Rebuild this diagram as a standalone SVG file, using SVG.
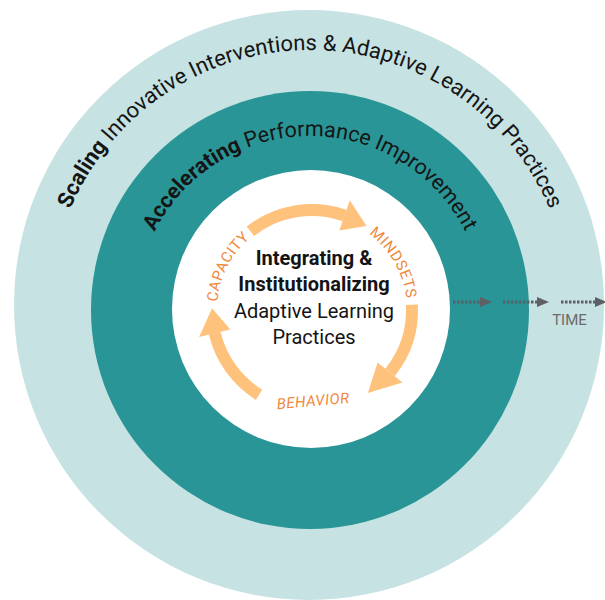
<svg xmlns="http://www.w3.org/2000/svg" width="605" height="600" viewBox="0 0 605 600">
<style>
.ring-text{font-family:Roboto,"Liberation Sans",sans-serif;fill:#151515}
.b{font-weight:700}
.core-text{font-family:Roboto,"Liberation Sans",sans-serif;font-size:20px;fill:#141414;text-anchor:middle}
.label{font-family:Roboto,"Liberation Sans",sans-serif;font-size:15px;fill:#f0883c;letter-spacing:0.5px}
.cycle{fill:none;stroke:#fec27c;stroke-width:12}
.head{fill:#fec27c}
.time{stroke:#5f5f66;stroke-width:3;stroke-dasharray:2.5 1.5;fill:none}
</style>
<defs>
<path id="p-outer" d="M50,310 A260,260 0 0 1 570,310"/>
<path id="p-mid" d="M136,310 A174,174 0 0 1 484,310"/>
<path id="p-cap" d="M224.55,347.1 A95,95 0 0 1 290.6,217.4"/>
<path id="p-mind" d="M328.5,216.4 A95,95 0 0 1 401.3,342.5"/>
<marker id="ah" markerUnits="userSpaceOnUse" markerWidth="12" markerHeight="10" refX="0" refY="5" orient="auto"><path d="M0,0 L12,5 L0,10 z" fill="#5f5f66"/></marker>
</defs>
<g id="outer-ring">
<circle cx="309" cy="305" r="295" fill="#c6e2e2"/>
<text class="ring-text" font-size="22"><textPath href="#p-outer" startOffset="50%" text-anchor="middle"><tspan class="b">Scaling</tspan> Innovative Interventions &amp; Adaptive Learning Practices</textPath></text>
</g>
<g id="middle-ring">
<circle cx="310" cy="310" r="219" fill="#299596"/>
<text class="ring-text" font-size="21.5"><textPath href="#p-mid" startOffset="50%" text-anchor="middle"><tspan class="b">Accelerating</tspan> Performance Improvement</textPath></text>
</g>
<g id="core">
<circle cx="311" cy="309" r="139" fill="#ffffff"/>
<text class="core-text" x="314" y="265" font-weight="700">Integrating &amp;</text>
<text class="core-text" x="314" y="291" font-weight="700">Institutionalizing</text>
<text class="core-text" x="314" y="318">Adaptive Learning</text>
<text class="core-text" x="314" y="344">Practices</text>
</g>
<g id="cycle">
<path class="cycle" d="M250.4,231.2 A100,100 0 0 1 344.6,215.5"/>
<polygon class="head" points="339.3,230.6 349.8,200.3 366.5,226.1"/>
<path class="cycle" d="M411.9,304.8 A100,100 0 0 1 390.0,372.5"/>
<polygon class="head" points="377.6,362.5 402.5,382.5 367.9,392.9"/>
<path class="cycle" d="M259.0,394.8 A100,100 0 0 1 214.7,333.2"/>
<polygon class="head" points="230.3,329.5 199.2,336.9 212.0,308.3"/>
</g>
<g id="cycle-labels">
<text class="label"><textPath href="#p-cap" startOffset="50%" text-anchor="middle">CAPACITY</textPath></text>
<text class="label"><textPath href="#p-mind" startOffset="50%" text-anchor="middle">MINDSETS</textPath></text>
<text class="label" x="313.5" y="406" text-anchor="middle" font-style="italic" transform="rotate(-5 313.5 406)">BEHAVIOR</text>
</g>
<g id="connectors">
<line class="time" x1="453" y1="302" x2="480" y2="302" marker-end="url(#ah)"/>
<line class="time" x1="503" y1="302" x2="537" y2="302" marker-end="url(#ah)"/>
<line class="time" x1="561" y1="302" x2="595" y2="302" marker-end="url(#ah)"/>
</g>
<g id="time-label">
<text x="569.5" y="325" text-anchor="middle" font-family="Roboto, 'Liberation Sans', sans-serif" font-size="15" fill="#6b6b6b">TIME</text>
</g>
</svg>
